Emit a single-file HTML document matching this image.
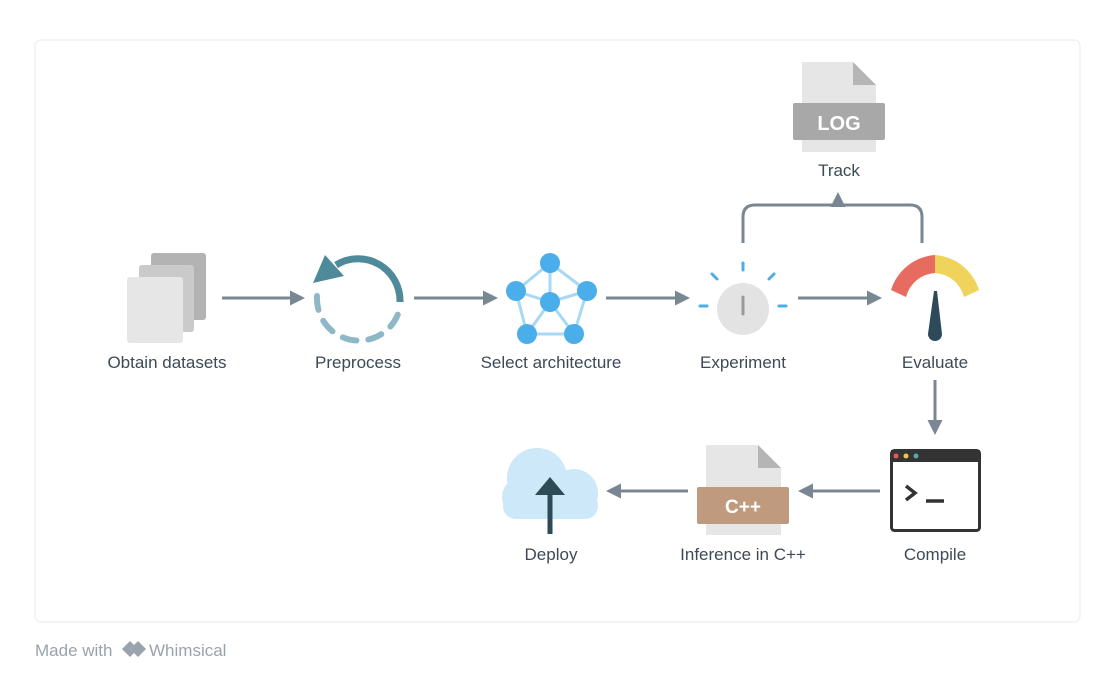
<!DOCTYPE html>
<html><head><meta charset="utf-8"><style>
body{margin:0;background:#fff;width:1115px;height:676px;overflow:hidden;font-family:"Liberation Sans",sans-serif}
</style></head><body>
<svg width="1115" height="676" viewBox="0 0 1115 676" xmlns="http://www.w3.org/2000/svg" font-family="Liberation Sans, sans-serif">
<defs>
<marker id="ah" viewBox="0 0 10 10" refX="8" refY="5" markerWidth="5" markerHeight="5" orient="auto"><path d="M0,0 L10,5 L0,10 z" fill="#7a8793"/></marker>
</defs>
<rect x="35" y="40" width="1045" height="582" rx="6" fill="#fff" stroke="#f0f1f3" stroke-width="1.5"/>
<g stroke="#7a8793" stroke-width="3" fill="none" marker-end="url(#ah)">
<line x1="222" y1="298" x2="302" y2="298"/>
<line x1="414" y1="298" x2="495" y2="298"/>
<line x1="606" y1="298" x2="687" y2="298"/>
<line x1="798" y1="298" x2="879" y2="298"/>
<line x1="935" y1="380" x2="935" y2="432"/>
<line x1="880" y1="491" x2="801" y2="491"/>
<line x1="688" y1="491" x2="609" y2="491"/>
<path d="M743,243 V217 Q743,205 755,205 H832 Q838,205 838,195"/>
</g>
<path d="M922,243 V217 Q922,205 910,205 H844 Q838,205 838,198" stroke="#7a8793" stroke-width="3" fill="none"/>
<!-- datasets -->
<rect x="151" y="253" width="55" height="67" rx="3" fill="#b3b3b3"/>
<rect x="139" y="265" width="55" height="67" rx="3" fill="#cacaca"/>
<rect x="127" y="277" width="56" height="66" rx="3" fill="#e6e6e6"/>
<!-- preprocess -->
<path d="M336,265 A42,42 0 0 1 400,302" stroke="#4e8a9a" stroke-width="7" fill="none"/>
<path d="M313,283 L325,255 L344,276 z" fill="#4e8a9a"/>
<path d="M317,296 A42,42 0 0 0 398,314" stroke="#8fb8c6" stroke-width="6" fill="none" stroke-dasharray="14 12" stroke-linecap="round"/>
<!-- network -->
<g stroke="#a8d8f5" stroke-width="3">
<line x1="550" y1="263" x2="516" y2="291"/><line x1="550" y1="263" x2="587" y2="291"/><line x1="550" y1="263" x2="550" y2="302"/>
<line x1="516" y1="291" x2="550" y2="302"/><line x1="587" y1="291" x2="550" y2="302"/>
<line x1="516" y1="291" x2="527" y2="334"/><line x1="587" y1="291" x2="574" y2="334"/>
<line x1="527" y1="334" x2="574" y2="334"/><line x1="550" y1="302" x2="527" y2="334"/><line x1="550" y1="302" x2="574" y2="334"/>
</g>
<g fill="#4aaeea"><circle cx="550" cy="263" r="10"/><circle cx="516" cy="291" r="10"/><circle cx="587" cy="291" r="10"/><circle cx="550" cy="302" r="10"/><circle cx="527" cy="334" r="10"/><circle cx="574" cy="334" r="10"/></g>
<!-- experiment -->
<circle cx="743" cy="309" r="26" fill="#e3e3e3"/>
<line x1="743" y1="297" x2="743" y2="314" stroke="#9a9a9a" stroke-width="3" stroke-linecap="round"/>
<g stroke="#4aaeea" stroke-width="3" stroke-linecap="round">
<line x1="743" y1="263" x2="743" y2="270"/><line x1="712" y1="274" x2="717" y2="279"/><line x1="774" y1="274" x2="769" y2="279"/>
<line x1="700" y1="306" x2="707" y2="306"/><line x1="779" y1="306" x2="786" y2="306"/>
</g>
<!-- gauge -->
<path d="M891,290 A50,50 0 0 1 935,255 V273 A32,32 0 0 0 906,297 z" fill="#e86b5f"/>
<path d="M935,255 A50,50 0 0 1 979,290 L964,297 A32,32 0 0 0 935,273 z" fill="#f0d35a"/>
<path d="M934,291 L937,291 L942,334 A7,7 0 0 1 928,334 z" fill="#2c4a5a"/>
<!-- LOG -->
<path d="M802,62 H853 L876,85 V152 H802 z" fill="#e6e6e6"/>
<path d="M853,62 L876,85 H853 z" fill="#b5b5b5"/>
<rect x="793" y="103" width="92" height="37" rx="2" fill="#a8a8a8"/>
<text x="839" y="130" text-anchor="middle" font-size="20" font-weight="bold" fill="#fff">LOG</text>
<!-- compile -->
<rect x="891.5" y="450.5" width="88" height="80" rx="3" fill="#fff" stroke="#333" stroke-width="3"/>
<rect x="891" y="450" width="89" height="12" fill="#333"/>
<circle cx="896" cy="456" r="2.5" fill="#e8594f"/><circle cx="906" cy="456" r="2.5" fill="#f0c940"/><circle cx="916" cy="456" r="2.5" fill="#5fa8a0"/>
<path d="M906,486 L915,493 L906,500" stroke="#333" stroke-width="3.5" fill="none"/>
<line x1="926" y1="501" x2="944" y2="501" stroke="#333" stroke-width="3.5"/>
<!-- C++ -->
<path d="M706,445 H758 L781,468 V535 H706 z" fill="#e6e6e6"/>
<path d="M758,445 L781,468 H758 z" fill="#b5b5b5"/>
<rect x="697" y="487" width="92" height="37" rx="2" fill="#c09a7e"/>
<text x="743" y="513" text-anchor="middle" font-size="19" font-weight="bold" fill="#fff">C++</text>
<!-- cloud -->
<g fill="#cde8f8"><circle cx="537" cy="478" r="30"/><circle cx="574" cy="493" r="24"/><circle cx="522" cy="497" r="20"/><rect x="503" y="492" width="95" height="27" rx="13"/></g>
<line x1="550" y1="534" x2="550" y2="490" stroke="#2d4a57" stroke-width="5"/>
<path d="M535,495 L550,477 L565,495 z" fill="#2d4a57"/>
<!-- labels -->
<g font-size="17" fill="#3d4a56" text-anchor="middle">
<text x="167" y="368">Obtain datasets</text>
<text x="358" y="368">Preprocess</text>
<text x="551" y="368">Select architecture</text>
<text x="743" y="368">Experiment</text>
<text x="935" y="368">Evaluate</text>
<text x="839" y="176">Track</text>
<text x="551" y="560">Deploy</text>
<text x="743" y="560">Inference in C++</text>
<text x="935" y="560">Compile</text>
</g>
<text x="35" y="656" font-size="17" fill="#9aa3ad">Made with</text>
<path d="M122,649 L130,641 L134,645 L130,649 L134,653 L130,657 z" fill="#9aa3ad"/>
<path d="M130,649 L138,641 L146,649 L138,657 z" fill="#9aa3ad"/>
<text x="149" y="656" font-size="17" fill="#9aa3ad">Whimsical</text>
</svg>
</body></html>
